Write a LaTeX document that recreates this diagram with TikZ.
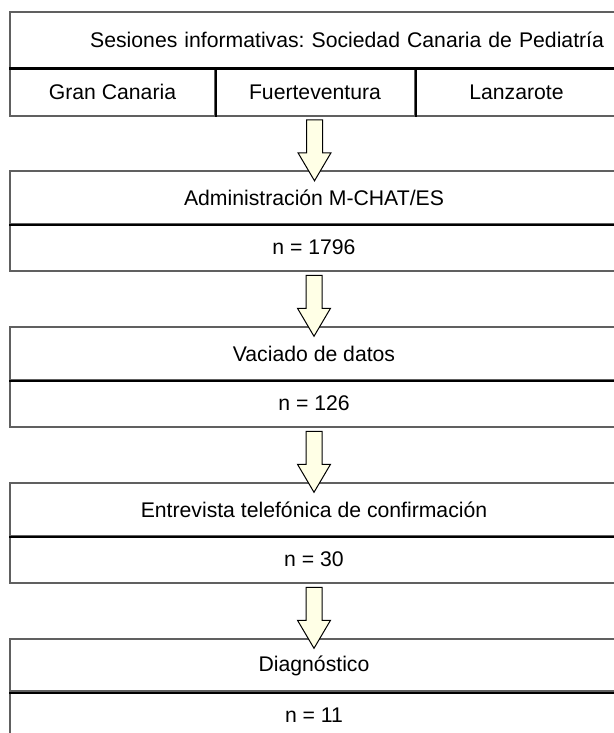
\documentclass[tikz,border=0pt]{standalone}
\usepackage{fontspec}
\setmainfont{Liberation Sans}
\usetikzlibrary{shapes.arrows}
\definecolor{cellline}{HTML}{606060}
\definecolor{arrowfill}{HTML}{FFFFE6}
\frenchspacing

\begin{document}
\begin{tikzpicture}[x=0.5pt, y=-0.5pt,
cell/.style={rectangle, draw=cellline, line width=0.6pt, inner sep=0pt, font=\fontsize{10.6}{13}\selectfont},
wide/.style={cell, minimum width=304pt},
divider/.style={black, line width=1.1pt},
coldiv/.style={black, line width=0.9pt},
blockarrow/.style={single arrow, draw=black, fill=arrowfill, line width=0.5pt, shape border rotate=270, inner sep=3.75pt, minimum height=30.5pt, minimum width=16pt, single arrow head extend=4.25pt, single arrow tip angle=61},
]
\useasboundingbox (0,0) rectangle (614,733);
%nodes
\node[wide, minimum height=28pt, text width=290pt, align=right](ses) at (314,40) {Sesiones informativas: Sociedad Canaria de Pediatría};
\node[cell, minimum width=102.5pt, minimum height=24pt](gc) at (112.5,92) {Gran Canaria};
\node[cell, minimum width=100pt, minimum height=24pt](fv) at (315,92) {Fuerteventura};
\node[cell, minimum width=101.5pt, minimum height=24pt](lz) at (516.5,92) {Lanzarote};
\node[wide, minimum height=26.5pt](adm) at (314,197.5) {Administración M-CHAT/ES};
\node[wide, minimum height=23.5pt](n1) at (314,247.5) {n = 1796};
\node[wide, minimum height=26.5pt](vac) at (314,353.5) {Vaciado de datos};
\node[wide, minimum height=23.5pt](n2) at (314,403.5) {n = 126};
\node[wide, minimum height=26.5pt](ent) at (314,509.5) {Entrevista telefónica de confirmación};
\node[wide, minimum height=23.5pt](n3) at (314,559.5) {n = 30};
\node[wide, minimum height=26.5pt](dia) at (314,665.5) {Diagnóstico};
\node[wide, minimum height=24pt](n4) at (314,715) {n = 11};
%dividers
\draw[divider] (ses.south west) -- (ses.south east);
\draw[coldiv] (gc.north east) -- (gc.south east);
\draw[coldiv] (fv.north east) -- (fv.south east);
\draw[divider] (adm.south west) -- (adm.south east);
\draw[divider] (vac.south west) -- (vac.south east);
\draw[divider] (ent.south west) -- (ent.south east);
\draw[divider] (dia.south west) -- (dia.south east);
%connections
\path (fv.south) -- (adm.north) node[midway, blockarrow] {};
\path (n1.south) -- (vac.north) node[midway, blockarrow] {};
\path (n2.south) -- (ent.north) node[midway, blockarrow] {};
\path (n3.south) -- (dia.north) node[midway, blockarrow] {};
\end{tikzpicture}
\end{document}
